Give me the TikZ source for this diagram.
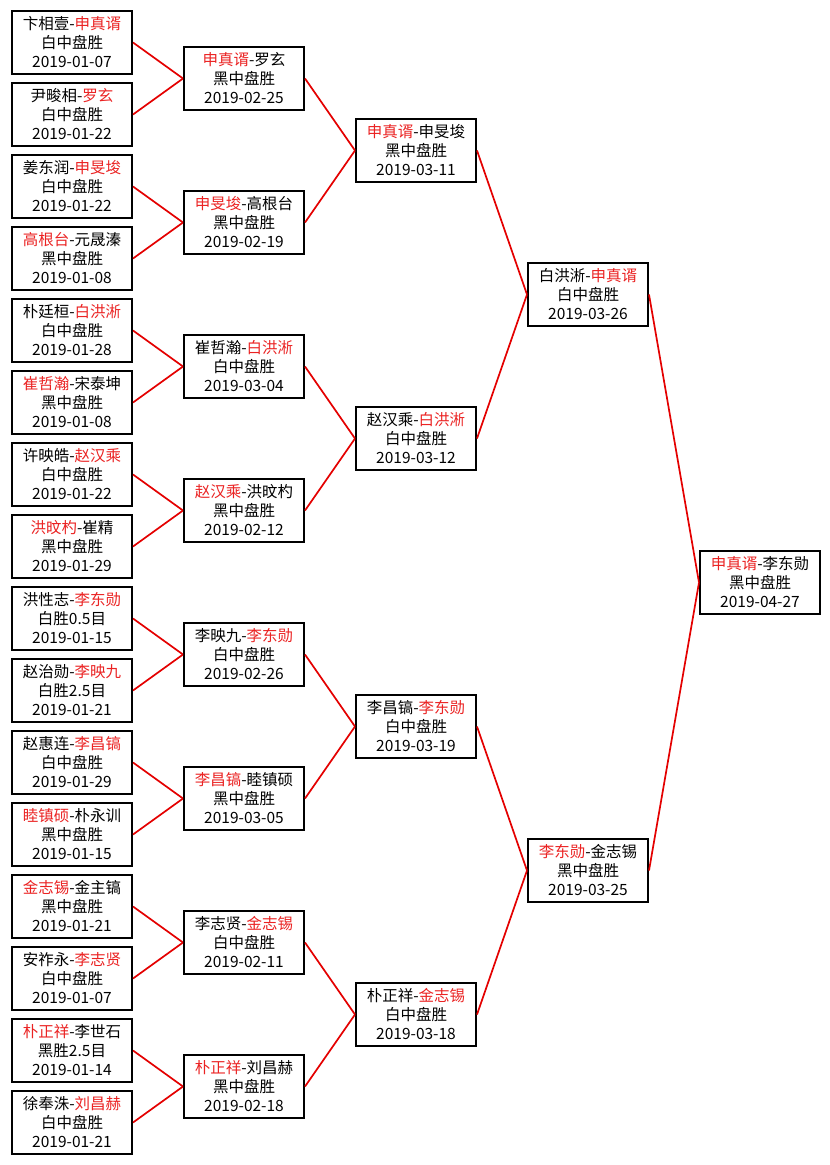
\documentclass[tikz,border=0pt]{standalone}
\usepackage{fontspec}
\setmainfont{Noto Sans CJK SC}
\definecolor{wincol}{RGB}{235,35,35}
\definecolor{linkcol}{RGB}{228,0,0}
\newcommand{\winr}[1]{\textcolor{wincol}{#1}}
\begin{document}
\begin{tikzpicture}[x=1pt,y=-1pt,
  match/.style={draw=black, line width=2pt, minimum width=120pt, minimum height=63pt,
    inner sep=0pt, align=center, font=\fontsize{15.5pt}{19pt}\selectfont},
  link/.style={draw=linkcol, line width=1.7pt}]
\useasboundingbox (0,0) rectangle (830,1165);
\fill[white] (0,0) rectangle (830,1165);

% column 1
\node[match] (a1)  at (72, 42.5)  {卞相壹-\winr{申真谞}\\白中盘胜\\2019-01-07};
\node[match] (a2)  at (72, 114.5) {尹畯相-\winr{罗玄}\\白中盘胜\\2019-01-22};
\node[match] (a3)  at (72, 186.5) {姜东润-\winr{申旻埈}\\白中盘胜\\2019-01-22};
\node[match] (a4)  at (72, 258.5) {\winr{高根台}-元晟溱\\黑中盘胜\\2019-01-08};
\node[match] (a5)  at (72, 330.5) {朴廷桓-\winr{白洪淅}\\白中盘胜\\2019-01-28};
\node[match] (a6)  at (72, 402.5) {\winr{崔哲瀚}-宋泰坤\\黑中盘胜\\2019-01-08};
\node[match] (a7)  at (72, 474.5) {许映皓-\winr{赵汉乘}\\白中盘胜\\2019-01-22};
\node[match] (a8)  at (72, 546.5) {\winr{洪旼杓}-崔精\\黑中盘胜\\2019-01-29};
\node[match] (a9)  at (72, 618.5) {洪性志-\winr{李东勋}\\白胜0.5目\\2019-01-15};
\node[match] (a10) at (72, 690.5) {赵治勋-\winr{李映九}\\白胜2.5目\\2019-01-21};
\node[match] (a11) at (72, 762.5) {赵惠连-\winr{李昌镐}\\白中盘胜\\2019-01-29};
\node[match] (a12) at (72, 834.5) {\winr{睦镇硕}-朴永训\\黑中盘胜\\2019-01-15};
\node[match] (a13) at (72, 906.5) {\winr{金志锡}-金主镐\\黑中盘胜\\2019-01-21};
\node[match] (a14) at (72, 978.5) {安祚永-\winr{李志贤}\\白中盘胜\\2019-01-07};
\node[match] (a15) at (72, 1050.5) {\winr{朴正祥}-李世石\\黑胜2.5目\\2019-01-14};
\node[match] (a16) at (72, 1122.5) {徐奉洙-\winr{刘昌赫}\\白中盘胜\\2019-01-21};

% column 2
\node[match] (b1) at (244, 78.5)  {\winr{申真谞}-罗玄\\黑中盘胜\\2019-02-25};
\node[match] (b2) at (244, 222.5) {\winr{申旻埈}-高根台\\黑中盘胜\\2019-02-19};
\node[match] (b3) at (244, 366.5) {崔哲瀚-\winr{白洪淅}\\白中盘胜\\2019-03-04};
\node[match] (b4) at (244, 510.5) {\winr{赵汉乘}-洪旼杓\\黑中盘胜\\2019-02-12};
\node[match] (b5) at (244, 654.5) {李映九-\winr{李东勋}\\白中盘胜\\2019-02-26};
\node[match] (b6) at (244, 798.5) {\winr{李昌镐}-睦镇硕\\黑中盘胜\\2019-03-05};
\node[match] (b7) at (244, 942.5) {李志贤-\winr{金志锡}\\白中盘胜\\2019-02-11};
\node[match] (b8) at (244, 1086.5) {\winr{朴正祥}-刘昌赫\\黑中盘胜\\2019-02-18};

% column 3
\node[match] (c1) at (416, 150.5) {\winr{申真谞}-申旻埈\\黑中盘胜\\2019-03-11};
\node[match] (c2) at (416, 438.5) {赵汉乘-\winr{白洪淅}\\白中盘胜\\2019-03-12};
\node[match] (c3) at (416, 726.5) {李昌镐-\winr{李东勋}\\白中盘胜\\2019-03-19};
\node[match] (c4) at (416, 1014.5) {朴正祥-\winr{金志锡}\\白中盘胜\\2019-03-18};

% column 4
\node[match] (d1) at (588, 294.5) {白洪淅-\winr{申真谞}\\白中盘胜\\2019-03-26};
\node[match] (d2) at (588, 870.5) {\winr{李东勋}-金志锡\\黑中盘胜\\2019-03-25};

% column 5
\node[match] (e1) at (760, 582.5) {\winr{申真谞}-李东勋\\黑中盘胜\\2019-04-27};

% connectors
\foreach \i/\p in {1/1,2/1,3/2,4/2,5/3,6/3,7/4,8/4,9/5,10/5,11/6,12/6,13/7,14/7,15/8,16/8}
  \draw[link] (a\i.east) -- (b\p.west);
\foreach \i/\p in {1/1,2/1,3/2,4/2,5/3,6/3,7/4,8/4}
  \draw[link] (b\i.east) -- (c\p.west);
\foreach \i/\p in {1/1,2/1,3/2,4/2}
  \draw[link] (c\i.east) -- (d\p.west);
\draw[link] (d1.east) -- (e1.west);
\draw[link] (d2.east) -- (e1.west);
\end{tikzpicture}
\end{document}
